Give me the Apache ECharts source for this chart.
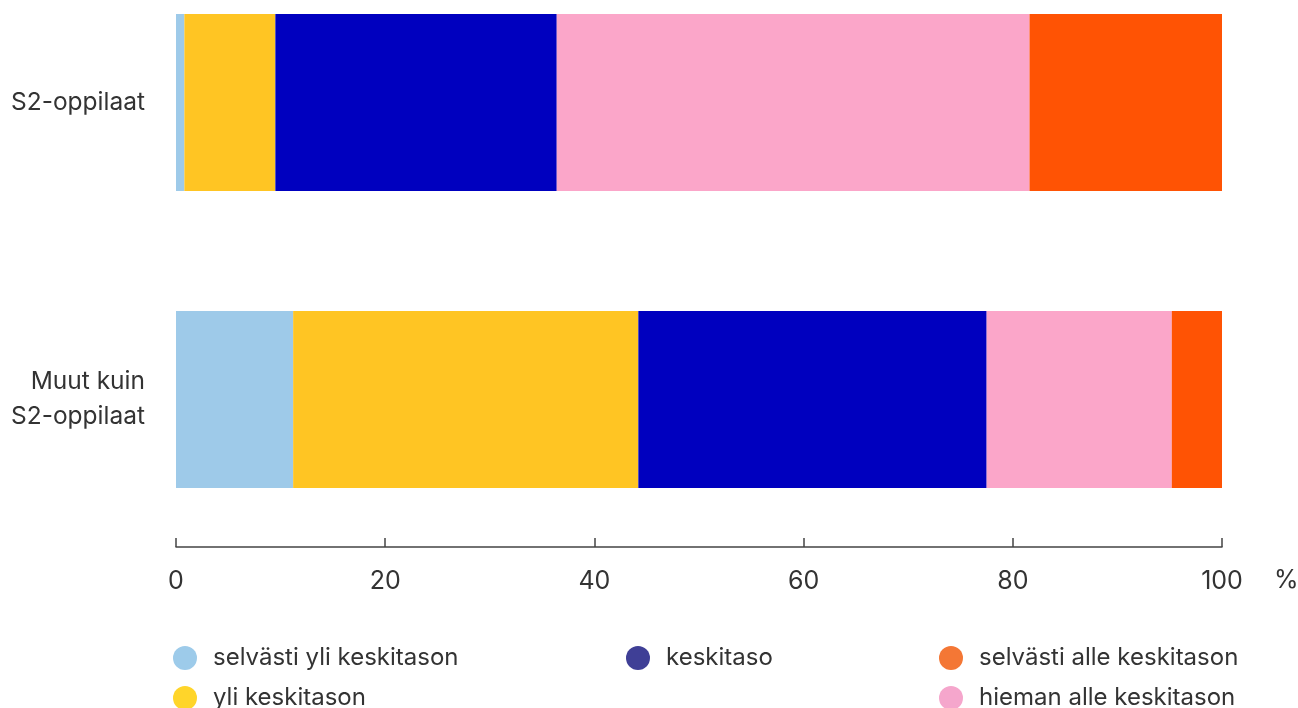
<!DOCTYPE html>
<html>
<head>
<meta charset="utf-8">
<script src="https://cdn.jsdelivr.net/npm/echarts@6/dist/echarts.min.js"></script>
<style>
html,body{margin:0;padding:0;background:#fff;}
#chart{width:1298px;height:708px;}
</style>
</head>
<body>
<div id="chart"></div>
<script>
const categories = ['S2-oppilaat', 'Muut kuin\nS2-oppilaat'];
const seriesNames = ['selvästi yli keskitason', 'yli keskitason', 'keskitaso', 'hieman alle keskitason', 'selvästi alle keskitason'];
const selvastiYli = [0.8, 11.2];
const yli = [8.7, 33.0];
const keskitaso = [26.9, 33.3];
const hiemanAlle = [45.2, 17.7];
const selvastiAlle = [18.4, 4.8];
const xTicks = [0, 20, 40, 60, 80, 100];

const barColors = ['#9ecae9', '#ffc523', '#0000bf', '#fba6c9', '#ff5304'];
const legendColors = ['#9dcbea', '#ffd52a', '#3f3f96', '#f5a6cc', '#f47735'];
const values = [selvastiYli, yli, keskitaso, hiemanAlle, selvastiAlle];

const chart = echarts.init(document.getElementById('chart'), null, {renderer: 'canvas'});
const font = 'Inter, Roboto, sans-serif';

// legend placement: [series index, left, top]
const legendPlaces = [[0, 168, 641], [1, 168, 681], [2, 621, 641], [4, 934, 641], [3, 934, 681]];
const legends = legendPlaces.map(([i, l, t]) => ({
  left: l, top: t,
  orient: 'horizontal',
  itemWidth: 46, itemHeight: 24,
  icon: 'circle',
  selectedMode: false,
  data: [{name: seriesNames[i], itemStyle: {color: legendColors[i]}}],
  textStyle: {fontFamily: font, fontSize: 24, color: '#333', lineHeight: 24}
}));

chart.setOption({
  animation: false,
  backgroundColor: '#fff',
  grid: {left: 176, right: 76, top: 102.5, bottom: 308.5, containLabel: false},
  xAxis: {
    type: 'value',
    min: 0, max: 100, interval: 20,
    offset: 147.5,
    axisLine: {show: true, lineStyle: {color: '#444', width: 1.5}},
    axisTick: {show: true, inside: true, length: 9, lineStyle: {color: '#444', width: 1.5}},
    splitLine: {show: false},
    axisLabel: {
      margin: 22, fontFamily: font, fontSize: 25, color: '#333',
      formatter: v => xTicks.includes(v) ? String(v) : ''
    }
  },
  yAxis: {
    type: 'category',
    inverse: true,
    boundaryGap: false,
    data: categories,
    axisLine: {show: false},
    axisTick: {show: false},
    splitLine: {show: false},
    axisLabel: {margin: 31, fontFamily: font, fontSize: 24.5, color: '#333', lineHeight: 35, align: 'right', padding: [4, 0, 0, 0]}
  },
  legend: legends,
  graphic: [{
    type: 'text', left: 1274, top: 568,
    style: {text: '%', font: '25px Inter, Roboto, sans-serif', fill: '#333'}
  }],
  series: seriesNames.map((n, i) => ({
    name: n,
    type: 'bar',
    stack: 'total',
    barWidth: 177,
    clip: false,
    data: values[i],
    itemStyle: {color: barColors[i]},
    emphasis: {disabled: true}
  }))
});
</script>
</body>
</html>
